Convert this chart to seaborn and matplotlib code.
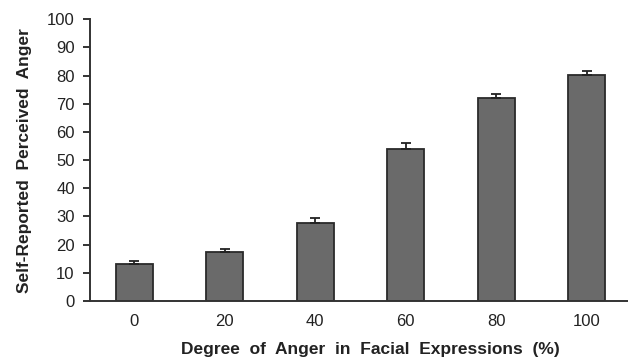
import matplotlib
matplotlib.use("Agg")
import matplotlib.pyplot as plt
import seaborn as sns
import pandas as pd
import numpy as np

categories = ["0", "20", "40", "60", "80", "100"]
values = [13.0, 17.5, 27.8, 54.1, 72.0, 80.1]
errors = [1.2, 0.9, 1.5, 1.8, 1.3, 1.5]

sns.set_theme(style="white")
plt.rcParams['font.family'] = ['Liberation Sans', 'DejaVu Sans']

df = pd.DataFrame({"cat": categories, "val": values})

fig = plt.figure(figsize=(6.28, 3.61), dpi=100)
ax = fig.add_axes([0.1433, 0.166, 0.86, 0.781])

sns.barplot(data=df, x="cat", y="val", color="#6a6a6a", saturation=1,
            width=0.41, edgecolor="#2a2a2a", linewidth=1.3, ax=ax, errorbar=None)

xs = np.arange(len(categories))
ax.errorbar(xs, values, yerr=[np.zeros(len(errors)), errors], fmt="none",
            ecolor="#222222", elinewidth=1.3, capsize=3.6, capthick=1.3)

ax.set_ylim(0, 100)
ax.set_xlim(-0.49, 5.48)
ax.set_yticks(range(0, 101, 10))

for s in ["top", "right"]:
    ax.spines[s].set_visible(False)
for s in ["left", "bottom"]:
    ax.spines[s].set_color("#333333")
    ax.spines[s].set_linewidth(1.4)

ax.tick_params(axis="y", which="major", direction="out", length=5, width=1.4,
               color="#333333", labelsize=12, labelcolor="#222222", pad=6, left=True)
ax.tick_params(axis="x", length=0, labelsize=12, labelcolor="#222222", pad=9)

ax.set_xlabel("Degree  of  Anger  in  Facial  Expressions  (%)", fontsize=12.5,
              fontweight="bold", color="#222222", labelpad=10)
ax.xaxis.label.set_x(0.52)
ax.set_ylabel("Self-Reported  Perceived  Anger", fontsize=12.5,
              fontweight="bold", color="#222222", labelpad=11)

fig.savefig("out.png", dpi=100)
